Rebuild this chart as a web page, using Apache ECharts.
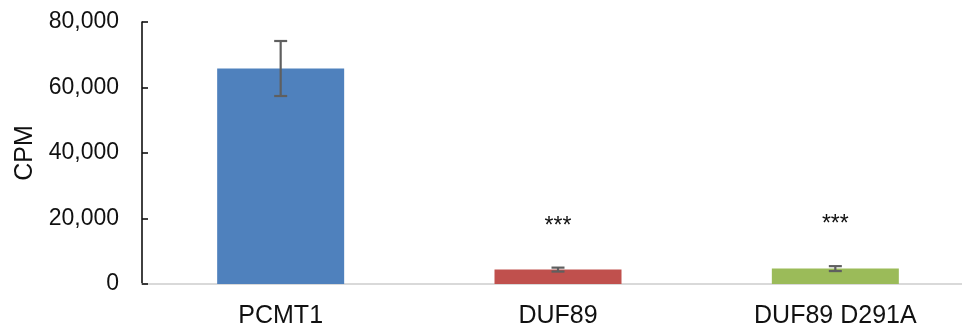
<!DOCTYPE html>
<html>
<head>
<meta charset="utf-8">
<script src="https://cdn.jsdelivr.net/npm/echarts@6/dist/echarts.min.js"></script>
<style>
  html, body { margin: 0; padding: 0; background: #fff; }
  #chart { width: 962px; height: 330px; }
</style>
</head>
<body>
<div id="chart"></div>
<script>
// Samples on the x axis
const categories = ['PCMT1', 'DUF89', 'DUF89 D291A'];
// Mean counts per minute and standard deviation for each sample
const cpmMean = [65800, 4400, 4700];
const cpmError = [8400, 600, 750];
// Significance marks shown above each error bar ('' = none)
const significance = ['', '***', '***'];
// Bar fill for each sample
const barColors = ['#4f81bd', '#c0504d', '#9bbb59'];
// Value axis ticks
const yTicks = [0, 20000, 40000, 60000, 80000];

const fmt = v => String(v).replace(/\B(?=(\d{3})+(?!\d))/g, ',');

const chart = echarts.init(document.getElementById('chart'));

chart.setOption({
  animation: false,
  grid: { left: 142, right: -12, top: 22, bottom: 46, containLabel: false, outerBoundsMode: 'none' },
  xAxis: {
    type: 'category',
    data: categories,
    axisLine: { lineStyle: { color: '#d9d9d9', width: 2 } },
    axisTick: { show: false },
    axisLabel: {
      color: '#111',
      fontFamily: 'Liberation Sans, Arial, sans-serif',
      fontSize: 25,
      margin: 20
    }
  },
  yAxis: {
    type: 'value',
    min: yTicks[0],
    max: yTicks[yTicks.length - 1],
    interval: yTicks[1] - yTicks[0],
    name: 'CPM',
    nameLocation: 'middle',
    nameRotate: 90,
    nameGap: 103,
    nameTextStyle: {
      color: '#111',
      fontFamily: 'Liberation Sans, Arial, sans-serif',
      fontSize: 25
    },
    splitLine: { show: false },
    axisLine: { show: true, lineStyle: { color: '#111', width: 1.6 } },
    axisTick: { show: true, inside: true, length: 6, lineStyle: { color: '#111', width: 1.6 } },
    axisLabel: {
      color: '#111',
      fontFamily: 'Liberation Sans, Arial, sans-serif',
      fontSize: 23,
      margin: 23,
      formatter: fmt
    }
  },
  series: [
    {
      type: 'bar',
      barWidth: 127,
      data: cpmMean.map((v, i) => ({ value: v, itemStyle: { color: barColors[i] } }))
    },
    {
      type: 'custom',
      z: 5,
      data: cpmMean.map((v, i) => [i, v - cpmError[i], v + cpmError[i]]),
      renderItem: function (params, api) {
        const i = api.value(0);
        const lo = api.coord([i, api.value(1)]);
        const hi = api.coord([i, api.value(2)]);
        const half = 6.5;
        const style = { stroke: '#5f5f5f', lineWidth: 2.2 };
        const children = [
          { type: 'line', shape: { x1: lo[0], y1: lo[1], x2: hi[0], y2: hi[1] }, style },
          { type: 'line', shape: { x1: hi[0] - half, y1: hi[1], x2: hi[0] + half, y2: hi[1] }, style },
          { type: 'line', shape: { x1: lo[0] - half, y1: lo[1], x2: lo[0] + half, y2: lo[1] }, style }
        ];
        const mark = significance[params.dataIndex];
        if (mark) {
          children.push({
            type: 'text',
            style: {
              text: mark,
              x: hi[0],
              y: hi[1] - 41,
              align: 'center',
              verticalAlign: 'middle',
              fill: '#111',
              font: '23px "Liberation Sans", Arial, sans-serif'
            }
          });
        }
        return { type: 'group', children };
      }
    }
  ]
});
</script>
</body>
</html>
